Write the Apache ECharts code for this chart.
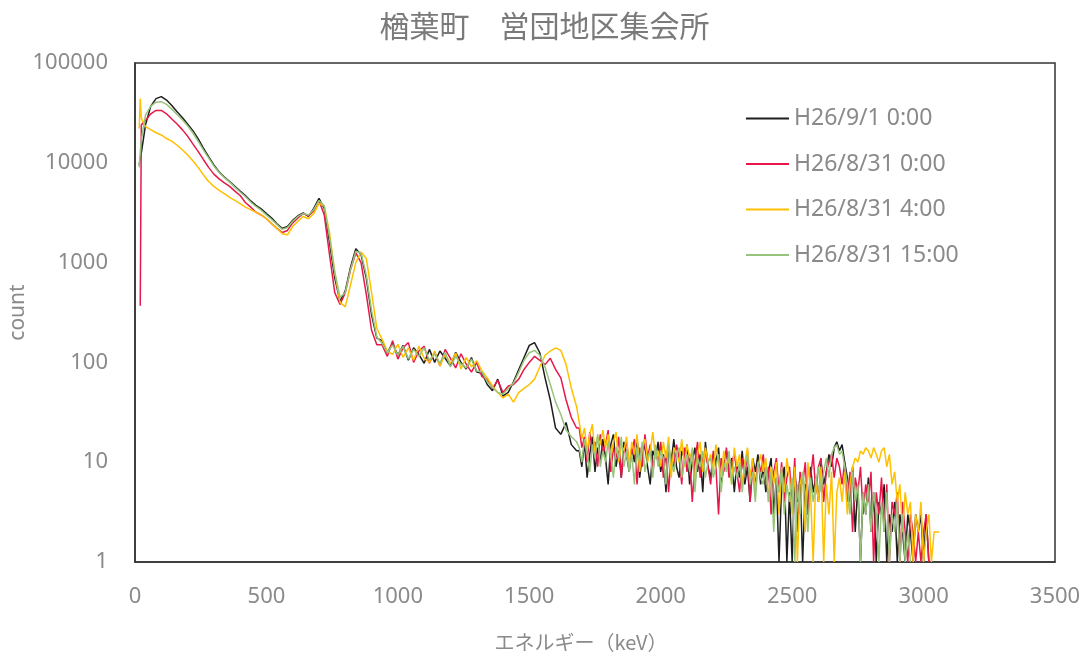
<!DOCTYPE html>
<html>
<head>
<meta charset="utf-8">
<script src="https://cdn.jsdelivr.net/npm/echarts@6/dist/echarts.min.js"></script>
<style>
html,body{margin:0;padding:0;background:#fff;}
#chart{width:1089px;height:658px;}
</style>
</head>
<body>
<div id="chart"></div>
<script>
// ---- Data ----
const titleText = '楢葉町　営団地区集会所';
const seriesNames = ['H26/9/1 0:00', 'H26/8/31 0:00', 'H26/8/31 4:00', 'H26/8/31 15:00'];
const xTicks = [0, 500, 1000, 1500, 2000, 2500, 3000, 3500];
const yTicks = [1, 10, 100, 1000, 10000, 100000];

// energy grid (keV)
const energyLow = [16, 20, 24, 40, 60, 80, 100, 120, 140, 160, 180, 200, 220, 240, 260, 280, 300, 320, 340, 360, 380, 400, 420, 440, 460, 480, 500, 520, 540, 560, 580, 600, 620, 640, 660, 680, 700, 720, 740, 760, 780, 800, 820, 840, 860, 880, 900, 920];
const energyMid = [940, 960, 980, 1000, 1020, 1040, 1060, 1080, 1100, 1120,
  1140, 1160, 1180, 1200, 1220, 1240, 1260, 1280, 1300, 1320,
  1340, 1360, 1380, 1400, 1420, 1440, 1460, 1480, 1500, 1520,
  1540, 1560, 1580, 1600, 1620, 1640, 1660, 1680];
const energyHigh = [1690, 1700, 1710, 1720, 1730, 1740, 1750, 1760, 1770, 1780,
  1790, 1800, 1810, 1820, 1830, 1840, 1850, 1860, 1870, 1880,
  1890, 1900, 1910, 1920, 1930, 1940, 1950, 1960, 1970, 1980,
  1990, 2000, 2010, 2020, 2030, 2040, 2050, 2060, 2070, 2080,
  2090, 2100, 2110, 2120, 2130, 2140, 2150, 2160, 2170, 2180,
  2190, 2200, 2210, 2220, 2230, 2240, 2250, 2260, 2270, 2280,
  2290, 2300, 2310, 2320, 2330, 2340, 2350, 2360, 2370, 2380,
  2390, 2400, 2410, 2420, 2430, 2440, 2450, 2460, 2470, 2480,
  2490, 2500, 2510, 2520, 2530, 2540, 2550, 2560, 2570, 2580,
  2590, 2600, 2610, 2620, 2630, 2640, 2650, 2660, 2670, 2680,
  2690, 2700, 2710, 2720, 2730, 2740, 2750, 2760, 2770, 2780,
  2790, 2800, 2810, 2820, 2830, 2840, 2850, 2860, 2870, 2880,
  2890, 2900, 2910, 2920, 2930, 2940, 2950, 2960, 2970, 2980,
  2990, 3000, 3010, 3020, 3030, 3040, 3050, 3060];

// counts (zero counts drawn at 1)
const blackLow = [9500, 11000, 12500, 24000, 37000, 44000, 46000, 42500, 37500, 32500, 28500, 24500, 21000, 17500, 14000, 11500, 9500, 8100, 7200, 6500, 5800, 5200, 4700, 4150, 3750, 3450, 3100, 2800, 2450, 2200, 2300, 2650, 2950, 3150, 2900, 3500, 4400, 3500, 1600, 700, 410, 520, 900, 1380, 1200, 700, 300, 175];
const blackMid = [165, 125, 155, 118, 148, 105, 140, 120, 98, 135,
  100, 130, 110, 92, 126, 100, 86, 112, 80, 78,
  60, 52, 68, 46, 50, 64, 85, 112, 148, 158,
  125, 70, 42, 22, 19, 25, 15, 13];
const blackHigh = [13, 9, 16, 7, 12, 18, 8, 14, 10, 17,
  11, 6, 15, 19, 9, 13, 7, 16, 12, 8,
  14, 10, 18, 7, 12, 15, 9, 6, 13, 11,
  16, 8, 12, 5, 14, 10, 17, 9, 7, 13,
  11, 15, 6, 10, 14, 8, 12, 5, 16, 9,
  7, 12, 10, 14, 6, 9, 13, 8, 11, 5,
  10, 7, 13, 6, 9, 4, 11, 8, 12, 6,
  9, 5, 8, 11, 3, 7, 1, 6, 9, 1,
  5, 1, 8, 4, 7, 1, 6, 3, 9, 5,
  7, 4, 10, 6, 8, 12, 9, 14, 16, 13,
  15, 10, 7, 4, 9, 2, 6, 1, 5, 3,
  7, 2, 5, 1, 4, 3, 6, 1, 3, 2,
  4, 1, 3, 2, 1, 3, 2, 1, 3, 2,
  3, 1, 3, 1, null, null, null, null];

const redLow = [null, 370, 24000, 26500, 31000, 33500, 33500, 31000, 27500, 24500, 21500, 18500, 15500, 13000, 10800, 9000, 7700, 6900, 6300, 5800, 5200, 4700, 4000, 3600, 3200, 3000, 2750, 2450, 2200, 2000, 2100, 2500, 2800, 3100, 2950, 3300, 4200, 3000, 1200, 500, 380, 500, 850, 1250, 1000, 480, 210, 150];
const redMid = [150, 115, 165, 108, 140, 158, 100, 130, 145, 98,
  128, 92, 135, 110, 88, 122, 96, 80, 100, 72,
  68, 55, 66, 50, 58, 60, 68, 85, 100, 115,
  105, 95, 110, 85, 70, 42, 28, 22];
const redHigh = [22, 14, 18, 10, 20, 13, 16, 9, 19, 12,
  15, 21, 8, 14, 11, 18, 7, 13, 16, 10,
  12, 17, 6, 14, 9, 19, 11, 15, 8, 13,
  10, 16, 7, 13, 5, 12, 9, 15, 11, 6,
  14, 8, 12, 4, 10, 16, 7, 11, 13, 9,
  6, 13, 9, 3, 11, 8, 14, 7, 10, 12,
  8, 5, 11, 7, 13, 4, 9, 6, 10, 8,
  12, 6, 9, 3, 8, 11, 5, 10, 4, 7,
  9, 4, 11, 2, 8, 6, 10, 3, 7, 12,
  5, 9, 11, 4, 8, 10, 12, 7, 11, 9,
  6, 10, 4, 8, 2, 7, 5, 9, 3, 6,
  4, 8, 1, 5, 3, 7, 2, 6, 1, 4,
  3, 5, 1, 4, 2, 1, 3, 2, 1, 2,
  1, 2, 3, 1, null, null, null, null];

const yellowLow = [22000, 44000, 28000, 23000, 21500, 20000, 19000, 17500, 16500, 15000, 13500, 12000, 10500, 9000, 7600, 6500, 5800, 5300, 4900, 4500, 4200, 3900, 3600, 3400, 3200, 3000, 2750, 2450, 2200, 1950, 1900, 2300, 2600, 2900, 2750, 3100, 3900, 3700, 2000, 800, 400, 360, 600, 1000, 1280, 1100, 500, 220];
const yellowMid = [170, 130, 120, 152, 112, 140, 105, 145, 110, 100,
  130, 92, 120, 98, 124, 86, 112, 90, 104, 82,
  70, 58, 50, 44, 48, 40, 50, 55, 60, 68,
  90, 118, 130, 140, 132, 95, 55, 36];
const yellowHigh = [25, 17, 22, 13, 19, 24, 12, 18, 15, 21,
  14, 19, 11, 16, 20, 10, 15, 13, 18, 9,
  16, 12, 19, 8, 14, 17, 10, 13, 20, 11,
  13, 9, 16, 11, 18, 7, 14, 12, 10, 17,
  9, 15, 11, 13, 6, 12, 16, 8, 14, 10,
  12, 8, 15, 10, 7, 13, 9, 11, 6, 14,
  9, 12, 6, 10, 14, 7, 11, 5, 9, 12,
  8, 11, 4, 9, 6, 10, 3, 8, 5, 11,
  7, 3, 9, 1, 6, 8, 2, 10, 5, 1,
  7, 4, 9, 1, 6, 3, 8, 1, 5, 7,
  4, 8, 3, 6, 9, 11, 10, 13, 12, 14,
  13, 11, 14, 12, 10, 13, 14, 9, 12, 6,
  8, 4, 6, 2, 5, 3, 4, 1, 3, 2,
  4, 1, 2, 3, 1, 2, 2, 2];

const greenLow = [9000, 13000, 17000, 30000, 37000, 40500, 41000, 38500, 34500, 30500, 27000, 23500, 20000, 16500, 13500, 11200, 9300, 8000, 7100, 6400, 5700, 5100, 4600, 4050, 3650, 3350, 3000, 2700, 2400, 2150, 2250, 2600, 2900, 3100, 3000, 3400, 4200, 3700, 1800, 800, 450, 500, 850, 1300, 1250, 750, 330, 180];
const greenMid = [155, 125, 150, 118, 145, 108, 135, 115, 140, 105,
  122, 98, 126, 90, 115, 96, 88, 108, 82, 80,
  64, 56, 50, 48, 55, 62, 80, 105, 125, 132,
  118, 90, 60, 40, 30, 21, 18, 16];
const greenHigh = [14, 10, 17, 12, 8, 15, 11, 19, 9, 13,
  10, 16, 12, 7, 14, 11, 18, 9, 13, 8,
  12, 6, 14, 10, 16, 8, 11, 13, 7, 15,
  9, 13, 11, 6, 15, 10, 8, 12, 14, 7,
  10, 12, 8, 14, 5, 11, 9, 13, 7, 10,
  11, 7, 9, 12, 5, 10, 8, 13, 6, 9,
  7, 10, 5, 9, 12, 6, 8, 4, 10, 7,
  6, 9, 4, 8, 2, 7, 5, 9, 3, 6,
  4, 7, 1, 6, 3, 8, 5, 2, 7, 4,
  6, 9, 5, 8, 11, 7, 12, 14, 15, 12,
  13, 9, 6, 3, 8, 4, 6, 1, 5, 3,
  6, 2, 5, 3, 1, 4, 2, 5, 1, 3,
  2, 4, 1, 3, 1, 2, 1, null, null, null,
  null, null, null, null, null, null, null, null];

const colors = ['#1e1e1e', '#e8174a', '#ffc000', '#97c47a'];

// ---- Build ----
const energy = energyLow.concat(energyMid, energyHigh);
const valueSets = [
  blackLow.concat(blackMid, blackHigh),
  redLow.concat(redMid, redHigh),
  yellowLow.concat(yellowMid, yellowHigh),
  greenLow.concat(greenMid, greenHigh)
];
const pairs = vals => energy.map((e, i) => [e, vals[i] == null ? null : vals[i]]);

const chart = echarts.init(document.getElementById('chart'));
const labelColor = '#8a8a8a';
const font = "'Noto Sans', 'Noto Sans CJK JP', sans-serif";

chart.setOption({
  backgroundColor: '#ffffff',
  animation: false,
  title: {
    text: titleText,
    left: 'center',
    top: 6,
    textStyle: { fontFamily: "'Noto Sans CJK JP', sans-serif", fontSize: 30, fontWeight: 'normal', color: '#7a7a7a' }
  },
  legend: {
    orient: 'vertical',
    left: 741,
    top: 101,
    itemWidth: 43,
    itemHeight: 2,
    itemGap: 20.5,
    icon: 'rect',
    data: seriesNames,
    textStyle: { fontFamily: font, fontSize: 23, color: labelColor, lineHeight: 25, padding: [0, 0, 0, 0] }
  },
  grid: {
    left: 135, right: 34, top: 63, bottom: 96,
    outerBoundsMode: 'none',
    containLabel: false,
    show: true, borderColor: '#333', borderWidth: 1.5
  },
  xAxis: {
    type: 'value',
    min: 0, max: 3500, interval: 500,
    name: 'エネルギー（keV）',
    nameLocation: 'middle',
    nameGap: 70,
    nameMoveOverlap: false,
    nameTextStyle: { fontFamily: "'Noto Sans CJK JP', sans-serif", fontSize: 20, color: labelColor, padding: [0, 28, 0, 0] },
    axisLine: { show: true, lineStyle: { color: '#333', width: 1.5 } },
    axisTick: { show: false },
    splitLine: { show: false },
    axisLabel: {
      margin: 24, fontFamily: font, fontSize: 22, color: labelColor,
      formatter: v => xTicks.includes(v) ? String(v) : ''
    }
  },
  yAxis: {
    type: 'log',
    logBase: 10,
    min: 1, max: 100000,
    name: 'count',
    nameLocation: 'middle',
    nameGap: 106,
    nameMoveOverlap: false,
    nameRotate: 90,
    nameTextStyle: { fontFamily: font, fontSize: 21, color: labelColor },
    axisLine: { show: true, lineStyle: { color: '#333', width: 1.5 } },
    axisTick: { show: false },
    splitLine: { show: false },
    minorSplitLine: { show: false },
    axisLabel: {
      margin: 27, fontFamily: font, fontSize: 22, color: labelColor,
      formatter: v => {
        const r = Math.round(v);
        return yTicks.includes(r) ? String(r) : '';
      }
    }
  },
  series: seriesNames.map((name, k) => ({
    name: name,
    type: 'line',
    data: pairs(valueSets[k]),
    showSymbol: false,
    symbol: 'none',
    connectNulls: false,
    lineStyle: { color: colors[k], width: 1.5 },
    itemStyle: { color: colors[k] },
    emphasis: { disabled: true }
  }))
});
</script>
</body>
</html>
